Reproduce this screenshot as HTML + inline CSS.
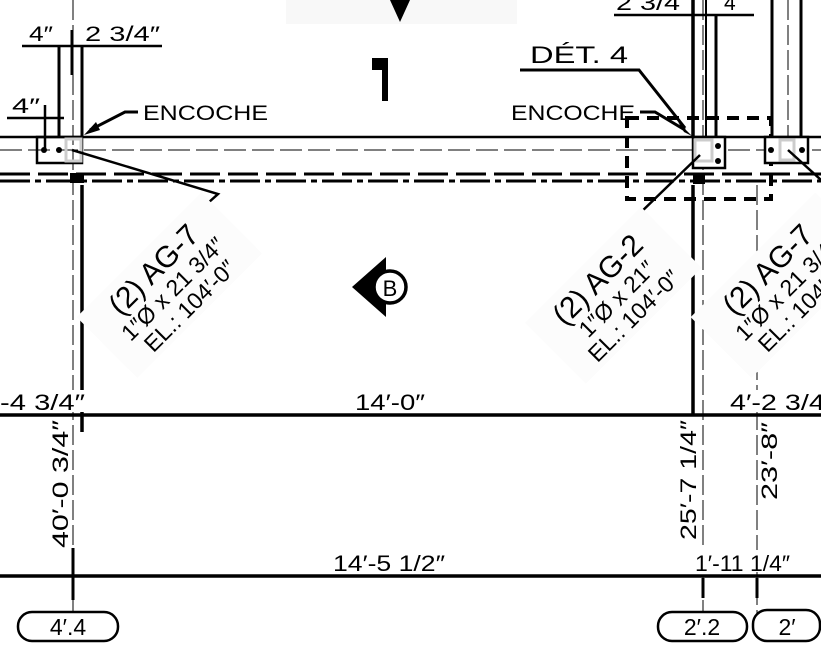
<!DOCTYPE html>
<html><head><meta charset="utf-8"><style>
html,body{margin:0;padding:0;background:#fff;width:821px;height:649px;overflow:hidden}
svg{display:block}
text{font-family:"Liberation Sans",sans-serif;fill:#000}
</style></head><body>
<svg width="821" height="649" viewBox="0 0 821 649" xmlns="http://www.w3.org/2000/svg">
<rect x="286" y="0" width="231" height="24" fill="#f8f8f8"/>
<polygon points="390,0 410,0 400,22" fill="#000"/>
<rect x="372" y="58" width="16" height="12" fill="#000"/>
<rect x="382" y="58" width="6" height="43" fill="#000"/>

<line x1="0" y1="137" x2="821" y2="137" stroke="#000" stroke-width="2.5"/>
<line x1="0" y1="150" x2="821" y2="150" stroke="#000" stroke-width="1" stroke-dasharray="22,6"/>
<line x1="0" y1="174" x2="821" y2="174" stroke="#000" stroke-width="3" stroke-dasharray="30,8"/>
<line x1="0" y1="181" x2="821" y2="181" stroke="#000" stroke-width="3" stroke-dasharray="30,5,6,5"/>
<line x1="0" y1="415" x2="821" y2="415" stroke="#000" stroke-width="3.5"/>
<line x1="0" y1="576" x2="821" y2="576" stroke="#000" stroke-width="3.5"/>

<line x1="73" y1="0" x2="73" y2="600" stroke="#000" stroke-width="1" stroke-dasharray="20,5"/>
<line x1="82" y1="46" x2="82" y2="137" stroke="#000" stroke-width="3"/>
<line x1="82" y1="185" x2="82" y2="432" stroke="#000" stroke-width="3.5"/>
<line x1="59" y1="46" x2="59" y2="137" stroke="#000" stroke-width="3"/>
<line x1="72" y1="30" x2="72" y2="75" stroke="#000" stroke-width="3"/>
<line x1="22" y1="46" x2="162" y2="46" stroke="#000" stroke-width="2.5"/>
<line x1="7" y1="118" x2="64" y2="118" stroke="#000" stroke-width="2.5"/>
<line x1="45" y1="105" x2="45" y2="150" stroke="#000" stroke-width="2.5"/>
<text x="29" y="41" font-size="21" textLength="24" lengthAdjust="spacingAndGlyphs">4″</text>
<text x="85" y="41" font-size="21" textLength="75" lengthAdjust="spacingAndGlyphs">2 3/4″</text>
<text x="12" y="113" font-size="21" textLength="28" lengthAdjust="spacingAndGlyphs">4″</text>
<rect x="37" y="137" width="45" height="26" fill="none" stroke="#000" stroke-width="2.5"/>
<rect x="66" y="139" width="15" height="22" fill="none" stroke="#ccc" stroke-width="3"/>
<circle cx="44" cy="150" r="3" fill="#000"/><circle cx="59" cy="150" r="3" fill="#000"/>
<rect x="70" y="173" width="14" height="10" fill="#000"/>
<text x="143" y="120" font-size="21" textLength="125" lengthAdjust="spacingAndGlyphs">ENCOCHE</text>
<polyline points="138,112 125,112 90,130" fill="none" stroke="#000" stroke-width="3"/>
<polygon points="84,135 96,122 100,130" fill="#000"/>
<polyline points="72,150 218,194 208,203" fill="none" stroke="#000" stroke-width="2.5"/>

<line x1="703" y1="0" x2="703" y2="620" stroke="#000" stroke-width="1" stroke-dasharray="20,5"/>
<line x1="693" y1="0" x2="693" y2="137" stroke="#000" stroke-width="3.5"/>
<line x1="693" y1="185" x2="693" y2="415" stroke="#000" stroke-width="3.5"/>
<line x1="716" y1="15" x2="716" y2="137" stroke="#000" stroke-width="3"/>
<line x1="706" y1="0" x2="706" y2="137" stroke="#000" stroke-width="2"/>
<line x1="772" y1="0" x2="772" y2="137" stroke="#000" stroke-width="3"/>
<line x1="788" y1="0" x2="788" y2="137" stroke="#000" stroke-width="1" stroke-dasharray="20,5"/>
<line x1="801" y1="0" x2="801" y2="137" stroke="#000" stroke-width="3"/>
<line x1="757" y1="185" x2="757" y2="620" stroke="#000" stroke-width="1" stroke-dasharray="20,5"/>
<line x1="614" y1="15" x2="754" y2="15" stroke="#000" stroke-width="2.5"/>
<text x="616" y="10" font-size="21" textLength="64" lengthAdjust="spacingAndGlyphs">2 3/4</text>
<text x="724" y="10" font-size="21">4</text>
<text x="530" y="63" font-size="24" textLength="98" lengthAdjust="spacingAndGlyphs">DÉT.  4</text>
<polyline points="520,70 639,70 685,128" fill="none" stroke="#000" stroke-width="3"/>
<text x="511" y="120" font-size="21" textLength="124" lengthAdjust="spacingAndGlyphs">ENCOCHE</text>
<polyline points="640,112 655,112 685,130" fill="none" stroke="#000" stroke-width="3"/>
<polygon points="692,136 678,122 684,132" fill="#000"/>
<rect x="627" y="118" width="144" height="81" fill="none" stroke="#000" stroke-width="4" stroke-dasharray="12,8"/>
<rect x="693" y="137" width="32" height="31" fill="#fff" stroke="#000" stroke-width="2.5"/>
<rect x="695" y="140" width="17" height="21" fill="none" stroke="#ccc" stroke-width="3"/>
<circle cx="718" cy="146" r="3" fill="#000"/><circle cx="718" cy="161" r="3" fill="#000"/>
<rect x="765" y="137" width="43" height="26" fill="#fff" stroke="#000" stroke-width="2.5"/>
<rect x="780" y="140" width="14" height="20" fill="none" stroke="#ccc" stroke-width="3"/>
<circle cx="771" cy="150" r="3" fill="#000"/><circle cx="802" cy="150" r="3" fill="#000"/>
<line x1="788" y1="150" x2="821" y2="180" stroke="#000" stroke-width="2.5"/>
<line x1="636" y1="217" x2="700" y2="155" stroke="#000" stroke-width="2.5"/>
<rect x="693" y="174" width="12" height="10" fill="#000"/>

<polygon points="352,287 386,257 386,317" fill="#000"/>
<circle cx="390" cy="287" r="16" fill="#fff" stroke="#000" stroke-width="3.5"/>
<text x="390" y="296" font-size="22" text-anchor="middle">B</text>

<g transform="translate(170,286) rotate(-45)">
<rect x="-88" y="-44" width="176" height="86" fill="#fcfcfc"/>
<text x="0" y="-13" text-anchor="middle" font-size="30">(2) AG-7</text>
<text x="0" y="12" text-anchor="middle" font-size="23">1″Ø x 21 3/4″</text>
<text x="0" y="36" text-anchor="middle" font-size="23">EL.: 104′-0″</text>
</g>
<g transform="translate(614,296) rotate(-45)">
<rect x="-82" y="-44" width="164" height="86" fill="#fcfcfc"/>
<text x="0" y="-13" text-anchor="middle" font-size="30">(2) AG-2</text>
<text x="0" y="12" text-anchor="middle" font-size="23">1″Ø x 21″</text>
<text x="0" y="36" text-anchor="middle" font-size="23">EL.: 104′-0″</text>
</g>
<g transform="translate(784,286) rotate(-45)">
<rect x="-88" y="-44" width="176" height="86" fill="#fcfcfc"/>
<text x="0" y="-13" text-anchor="middle" font-size="30">(2) AG-7</text>
<text x="0" y="12" text-anchor="middle" font-size="23">1″Ø x 21 3/4″</text>
<text x="0" y="36" text-anchor="middle" font-size="23">EL.: 104′-0″</text>
</g>

<rect x="0" y="390" width="86" height="22" fill="#fff"/>
<text x="0" y="410" font-size="22" textLength="85" lengthAdjust="spacingAndGlyphs">-4 3/4″</text>
<text x="355" y="410" font-size="22" textLength="70" lengthAdjust="spacingAndGlyphs">14′-0″</text>
<rect x="728" y="390" width="93" height="22" fill="#fff"/>
<text x="730" y="410" font-size="22" textLength="105" lengthAdjust="spacingAndGlyphs">4′-2 3/4″</text>
<text x="333" y="571" font-size="22" textLength="112" lengthAdjust="spacingAndGlyphs">14′-5 1/2″</text>
<rect x="693" y="550" width="98" height="22" fill="#fff"/>
<text x="695" y="571" font-size="22" textLength="95" lengthAdjust="spacingAndGlyphs">1′-11 1/4″</text>
<text transform="translate(68,548) rotate(-90)" font-size="22" textLength="128" lengthAdjust="spacingAndGlyphs">40′-0 3/4″</text>
<text transform="translate(696,540) rotate(-90)" font-size="22" textLength="120" lengthAdjust="spacingAndGlyphs">25′-7 1/4″</text>
<text transform="translate(777,500) rotate(-90)" font-size="22" textLength="78" lengthAdjust="spacingAndGlyphs">23′-8″</text>

<line x1="73" y1="548" x2="73" y2="600" stroke="#000" stroke-width="3"/>
<line x1="703" y1="578" x2="703" y2="598" stroke="#000" stroke-width="3"/>
<line x1="757" y1="578" x2="757" y2="598" stroke="#000" stroke-width="3"/>
<line x1="73" y1="600" x2="73" y2="612" stroke="#000" stroke-width="1"/>

<rect x="18" y="612" width="100" height="29" rx="14" fill="#fff" stroke="#000" stroke-width="2.5"/>
<text x="68" y="635" font-size="23" text-anchor="middle">4′.4</text>
<rect x="658" y="612" width="89" height="29" rx="14" fill="#fff" stroke="#000" stroke-width="2.5"/>
<text x="702" y="635" font-size="23" text-anchor="middle">2′.2</text>
<rect x="753" y="610" width="67" height="31" rx="14" fill="#fff" stroke="#000" stroke-width="2.5"/>
<text x="787" y="635" font-size="23" text-anchor="middle">2′</text>
</svg>
</body></html>
